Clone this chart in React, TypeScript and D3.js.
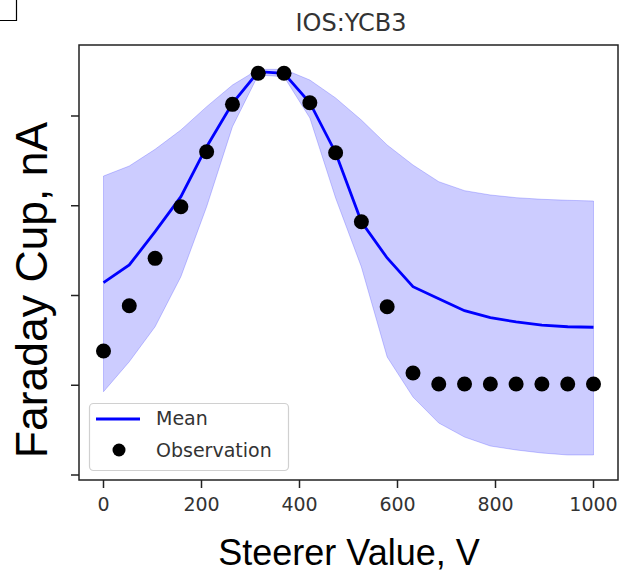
import React from "react";
import * as d3 from "d3";

const W = 628;
const H = 584;

const title = "IOS:YCB3";
const xLabel = "Steerer Value, V";
const yLabel = "Faraday Cup, nA";
const xTicks = [0, 200, 400, 600, 800, 1000];
const yTicks = [0, 1, 2, 3, 4];

const steerer = [
  0, 52.6, 105.3, 157.9, 210.5, 263.2, 315.8, 368.4, 421.1, 473.7,
  526.3, 578.9, 631.6, 684.2, 736.8, 789.5, 842.1, 894.7, 947.4, 1000,
];
const observation = [
  1.382, 1.886, 2.414, 2.989, 3.602, 4.13, 4.476, 4.476, 4.148, 3.591,
  2.822, 1.875, 1.136, 1.014, 1.014, 1.014, 1.014, 1.014, 1.014, 1.014,
];
const mean = [
  2.143, 2.34, 2.711, 3.101, 3.658, 4.141, 4.494, 4.476, 4.148, 3.591,
  2.822, 2.418, 2.098, 1.964, 1.831, 1.753, 1.705, 1.671, 1.652, 1.646,
];
const upper = [
  3.331, 3.443, 3.629, 3.844, 4.104, 4.345, 4.52, 4.52, 4.401, 4.201,
  3.955, 3.677, 3.454, 3.268, 3.168, 3.12, 3.09, 3.072, 3.061, 3.053,
];
const lower = [
  0.928, 1.262, 1.652, 2.209, 2.989, 3.881, 4.457, 4.438, 3.978, 3.086,
  2.318, 1.315, 0.869, 0.579, 0.423, 0.323, 0.279, 0.245, 0.223, 0.223,
];

const M = { left: 79, top: 45, right: 618, bottom: 480 };

export default function App() {
  const x = d3.scaleLinear().domain([-50, 1050]).range([M.left, M.right]);
  const y = d3.scaleLinear().domain([-0.0557, 4.791]).range([M.bottom, M.top]);

  const idx = steerer.map((_, i) => i);
  const area = d3
    .area<number>()
    .x((i) => x(steerer[i]))
    .y0((i) => y(lower[i]))
    .y1((i) => y(upper[i]));
  const line = d3
    .line<number>()
    .x((i) => x(steerer[i]))
    .y((i) => y(mean[i]));

  const tickFont = "DejaVu Sans, sans-serif";

  return (
    <svg
      width={W}
      height={H}
      style={{ position: "absolute", left: 0, top: 0, background: "#fff" }}
    >
      <rect x={0} y={0} width={W} height={H} fill="#fff" />
      <path d="M0,20.5 H16.5 V0" fill="none" stroke="#000" strokeWidth={1.2} />

      <path d={area(idx) || ""} fill="#0000ff" fillOpacity={0.2} stroke="#0000ff" strokeOpacity={0.2} strokeWidth={1} />
      <path d={line(idx) || ""} fill="none" stroke="#0000ff" strokeWidth={2.8} />
      {idx.map((i) => (
        <circle key={i} cx={x(steerer[i])} cy={y(observation[i])} r={7.5} fill="#000" />
      ))}

      <rect
        x={M.left}
        y={M.top}
        width={M.right - M.left}
        height={M.bottom - M.top}
        fill="none"
        stroke="#222"
        strokeWidth={1.5}
      />

      {xTicks.map((t) => (
        <g key={t} transform={`translate(${x(t)},0)`}>
          <line y1={M.bottom} y2={M.bottom + 8} stroke="#222" strokeWidth={1.5} />
          <text
            y={511}
            textAnchor="middle"
            fontFamily={tickFont}
            fontSize={19}
            fill="#333"
          >
            {t}
          </text>
        </g>
      ))}
      {yTicks.map((t) => (
        <line
          key={t}
          x1={M.left - 8}
          x2={M.left}
          y1={y(t)}
          y2={y(t)}
          stroke="#222"
          strokeWidth={1.5}
        />
      ))}

      <text
        x={351}
        y={31}
        textAnchor="middle"
        fontFamily={tickFont}
        fontSize={24}
        fill="#333"
      >
        {title}
      </text>
      <text
        x={349}
        y={565}
        textAnchor="middle"
        fontFamily="Liberation Sans, Arial, sans-serif"
        fontSize={36}
        fill="#000"
      >
        {xLabel}
      </text>
      <text
        transform={`translate(47,290) rotate(-90)`}
        textAnchor="middle"
        fontFamily="Liberation Sans, Arial, sans-serif"
        fontSize={44.5}
        fill="#000"
      >
        {yLabel}
      </text>

      <g>
        <rect
          x={89.5}
          y={403.5}
          width={199}
          height={67}
          rx={4}
          fill="#fff"
          fillOpacity={0.8}
          stroke="#d0d0d0"
          strokeWidth={1.2}
        />
        <line x1={96} x2={140} y1={419} y2={419} stroke="#0000ff" strokeWidth={2.8} />
        <circle cx={119} cy={450} r={6.5} fill="#000" />
        <text x={156} y={425} fontFamily={tickFont} fontSize={19} fill="#333">
          Mean
        </text>
        <text x={156} y={456.5} fontFamily={tickFont} fontSize={19} fill="#333">
          Observation
        </text>
      </g>
    </svg>
  );
}
